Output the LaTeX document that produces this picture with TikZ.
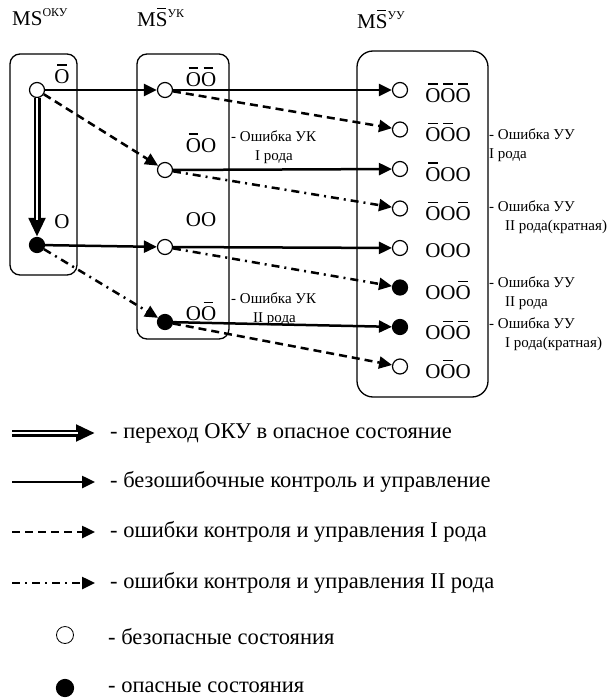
\documentclass[tikz,border=0pt]{standalone}
\usepackage{fontspec}
\setmainfont{Liberation Serif}
\usetikzlibrary{arrows.meta}
% letter with a short bar above it
\newcommand{\barred}[1]{\leavevmode\hbox{\rlap{\hspace{0.13em}\rule[0.84em]{0.46em}{0.055em}}#1}}
\newcommand{\barO}{\barred{O}}
\newcommand{\barS}{\hbox{\rlap{\hspace{0.06em}\rule[0.84em]{0.44em}{0.055em}}S}}

\begin{document}
\begin{tikzpicture}[x=1pt, y=-1pt, >={Triangle[length=13pt,width=12pt]},
    safe/.style={circle, draw, line width=1.2pt, fill=white, minimum size=15pt, inner sep=0pt},
    danger/.style={safe, fill=black},
    okline/.style={->, line width=2.5pt},
    errone/.style={->, line width=2.5pt, dash pattern=on 8pt off 5pt},
    errtwo/.style={->, line width=2.5pt, dash pattern=on 8pt off 5pt on 2pt off 5pt},
    fallline/.style={-{Triangle[length=19pt,width=16pt]}, line width=7pt,
        postaction={draw=white, line width=2.2pt, -, shorten >=17pt}},
    frame/.style={line width=1.3pt, rounded corners=10pt},
    big/.style={font=\fontsize{21}{24}\selectfont, inner sep=0pt},
    note/.style={font=\fontsize{15}{19}\selectfont, align=left, anchor=west, inner sep=0pt},
    legend/.style={font=\fontsize{22.5}{24}\selectfont, anchor=west, inner sep=0pt}]
    \useasboundingbox (0,0) rectangle (610,700);

    % Titles
    \node[big, anchor=base west] (toku) at (12,26) {MS\raisebox{9pt}{\fontsize{12}{12}\selectfont ОКУ}};
    \node[big, anchor=base west] (tuk) at (137,27) {M\barS\raisebox{9pt}{\fontsize{12}{12}\selectfont УК}};
    \node[big, anchor=base west] (tuu) at (357,29) {M\barS\raisebox{9pt}{\fontsize{12}{12}\selectfont УУ}};

    % Frames
    \draw[frame] (10,54) rectangle (77,275);
    \draw[frame] (137,54) rectangle (229,339);
    \draw[frame, rounded corners=16pt] (357,51) rectangle (488,397);

    % States of the object
    \node[safe] (ob) at (37,90) {};
    \node[danger] (oa) at (37,245) {};
    \node[big] (lob) at (62,74) {\barO};
    \node[big] (loa) at (62,222) {O};

    % States after control
    \node[safe] (k1) at (165,90) {};
    \node[safe] (k2) at (165,170) {};
    \node[safe] (k3) at (165,247) {};
    \node[danger] (k4) at (165,322) {};
    \node[big] (lk1) at (201,77) {\barO\barO};
    \node[big] (lk2) at (201,143) {\barO O};
    \node[big] (lk3) at (201,220) {OO};
    \node[big] (lk4) at (201,311) {O\barO};

    % States after control and management
    \node[safe] (u1) at (400,90) {};
    \node[safe] (u2) at (400,129.5) {};
    \node[safe] (u3) at (400,169) {};
    \node[safe] (u4) at (400,208.5) {};
    \node[safe] (u5) at (400,248) {};
    \node[danger] (u6) at (400,287.5) {};
    \node[danger] (u7) at (400,327) {};
    \node[safe] (u8) at (400,366.5) {};
    \node[big] (lu1) at (448,93) {\barO\barO\barO};
    \node[big] (lu2) at (448,132.5) {\barO\barO O};
    \node[big] (lu3) at (448,172) {\barO OO};
    \node[big] (lu4) at (448,211.5) {\barO O\barO};
    \node[big] (lu5) at (448,251) {OOO};
    \node[big] (lu6) at (448,290.5) {OO\barO};
    \node[big] (lu7) at (448,330) {O\barO\barO};
    \node[big] (lu8) at (448,369.5) {O\barO O};

    % Notes
    \node[note] (nk2) at (231,147) {- Ошибка УК\\\hspace*{24pt}I рода};
    \node[note] (nk4) at (231,309) {- Ошибка УК\\\hspace*{22pt}II рода};
    \node[note] (nu2) at (489,145) {- Ошибка УУ\\I рода};
    \node[note] (nu4) at (489,217) {- Ошибка УУ\\\hspace*{16pt}II рода(кратная)};
    \node[note] (nu6) at (489,293) {- Ошибка УУ\\\hspace*{16pt}II рода};
    \node[note] (nu7) at (489,334) {- Ошибка УУ\\\hspace*{16pt}I рода(кратная)};

    % Transitions
    \draw[fallline] (ob) -- (oa);
    \draw[okline] (ob) -- (k1);
    \draw[errone] (ob) -- (k2);
    \draw[okline] (oa) -- (k3);
    \draw[errtwo] (oa) -- (k4);
    \draw[okline] (k1) -- (u1);
    \draw[errone] (k1) -- (u2);
    \draw[okline] (k2) -- (u3);
    \draw[errtwo] (k2) -- (u4);
    \draw[okline] (k3) -- (u5);
    \draw[errtwo] (k3) -- (u6);
    \draw[okline] (k4) -- (u7);
    \draw[errone] (k4) -- (u8);

    % Legend
    \foreach \name/\kind/\ypos in {la/fallline/433, lb/okline/482, lc/errone/532, ld/errtwo/583}{
        \coordinate (\name s) at (12,\ypos);
        \coordinate (\name e) at (95,\ypos);
        \draw[\kind] (\name s) -- (\name e);
    }
    \node[legend] (tla) at (110,433) {- переход ОКУ в опасное состояние};
    \node[legend] (tlb) at (110,482) {- безошибочные контроль и управление};
    \node[legend] (tlc) at (110,532) {- ошибки контроля и управления I рода};
    \node[legend] (tld) at (110,583) {- ошибки контроля и управления II рода};
    \node[safe, minimum size=17pt, line width=0.8pt] (lsafe) at (65,635) {};
    \node[danger, minimum size=17pt] (ldanger) at (65,688) {};
    \node[legend] (tle) at (108,637) {- безопасные состояния};
    \node[legend] (tlf) at (108,687) {- опасные состояния};
\end{tikzpicture}
\end{document}
